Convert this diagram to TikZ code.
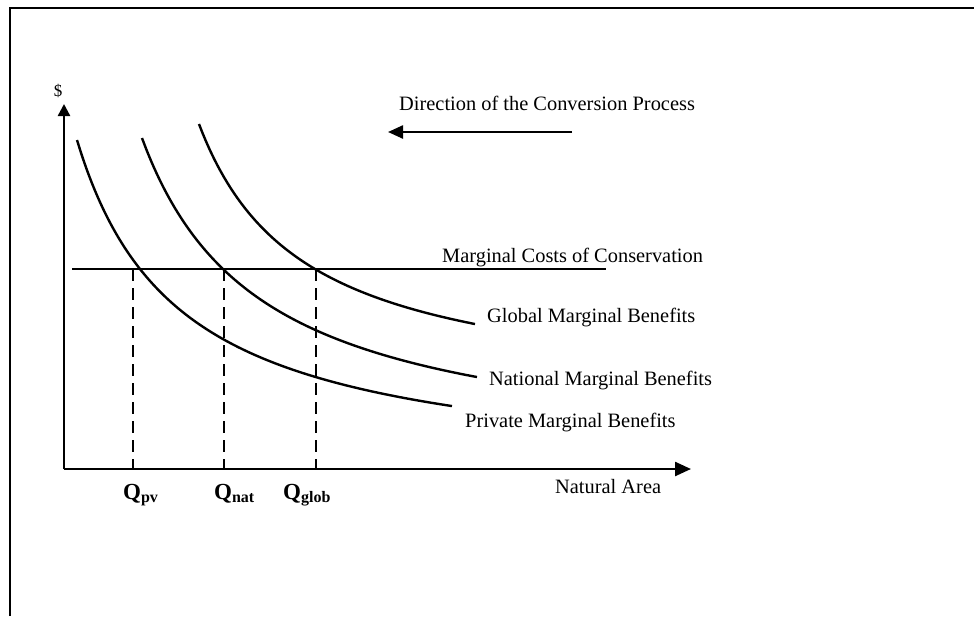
\documentclass[tikz,border=0pt]{standalone}
\usepackage{fontspec}
\setmainfont{Liberation Serif}
\usetikzlibrary{arrows.meta}
\begin{document}
\begin{tikzpicture}[x=1pt,y=-1pt,
  lbl/.style={inner sep=0pt, anchor=base west, font=\fontsize{20.4}{24}\selectfont},
  qlbl/.style={inner sep=0pt, anchor=base west, font=\fontsize{23}{26}\selectfont\bfseries},
  axis/.style={line width=2.4pt},
  curve/.style={line width=2.4pt},
  dropline/.style={line width=2.4pt, dash pattern=on 12pt off 7pt},
  frame/.style={line width=2.8pt}]
\useasboundingbox (0,0) rectangle (974,616);
% frame (top and left only)
\coordinate (fTL) at (10,8);
\coordinate (fTR) at (974,8);
\coordinate (fBL) at (10,616);
\draw[frame] (fBL) -- (fTL) -- (fTR);
% axes
\coordinate (O) at (64,469);
\coordinate (Ytip) at (64,104);
\coordinate (Xtip) at (691,469);
\draw[axis,-{Triangle[length=12pt,width=12pt]}] (O) -- (Ytip);
\draw[axis,-{Triangle[length=16pt,width=14pt]}] (O) -- (Xtip);
\node[inner sep=0pt, font=\fontsize{17}{20}\selectfont] (dollar) at (58,91) {\$};
% direction arrow
\node[lbl] (dir) at (399,110) {Direction of the Conversion Process};
\coordinate (dirS) at (572,132);
\coordinate (dirE) at (388,132);
\draw[line width=2.4pt,-{Triangle[length=15pt,width=13pt]}] (dirS) -- (dirE);
% marginal cost line
\coordinate (mcS) at (72,269);
\coordinate (mcE) at (606,269);
\draw[curve] (mcS) -- (mcE);
\node[lbl] (mc) at (442,262) {Marginal Costs of Conservation};
% benefit curves
\draw[curve] plot[domain=77:452, samples=80, smooth] (\x,{478.7 - 346.8/((\x+25.4)/100)});
\draw[curve] plot[domain=142:477, samples=80, smooth] (\x,{462.3 - 387.5/((\x-22.5)/100)});
\draw[curve] plot[domain=199:475, samples=80, smooth] (\x,{399.9 - 288.84/((\x-94.3)/100)});
\node[lbl] (glob) at (487,322) {Global Marginal Benefits};
\node[lbl] (nat) at (489,385) {National Marginal Benefits};
\node[lbl] (priv) at (465,427) {Private Marginal Benefits};
% dashed drop lines
\coordinate (dp1) at (133,269); \coordinate (dp1b) at (133,469);
\coordinate (dp2) at (224,269); \coordinate (dp2b) at (224,469);
\coordinate (dp3) at (316,269); \coordinate (dp3b) at (316,469);
\draw[dropline] (dp1) -- (dp1b);
\draw[dropline] (dp2) -- (dp2b);
\draw[dropline] (dp3) -- (dp3b);
% Q labels
\node[qlbl] (qpv) at (123,499) {Q\raisebox{-3pt}{\fontsize{16}{17}\selectfont pv}};
\node[qlbl] (qnat) at (214,499) {Q\raisebox{-3pt}{\fontsize{16}{17}\selectfont nat}};
\node[qlbl] (qglob) at (283,499) {Q\raisebox{-3pt}{\fontsize{16}{17}\selectfont glob}};
\node[lbl] (xlab) at (555,493) {Natural Area};
\end{tikzpicture}
\end{document}
